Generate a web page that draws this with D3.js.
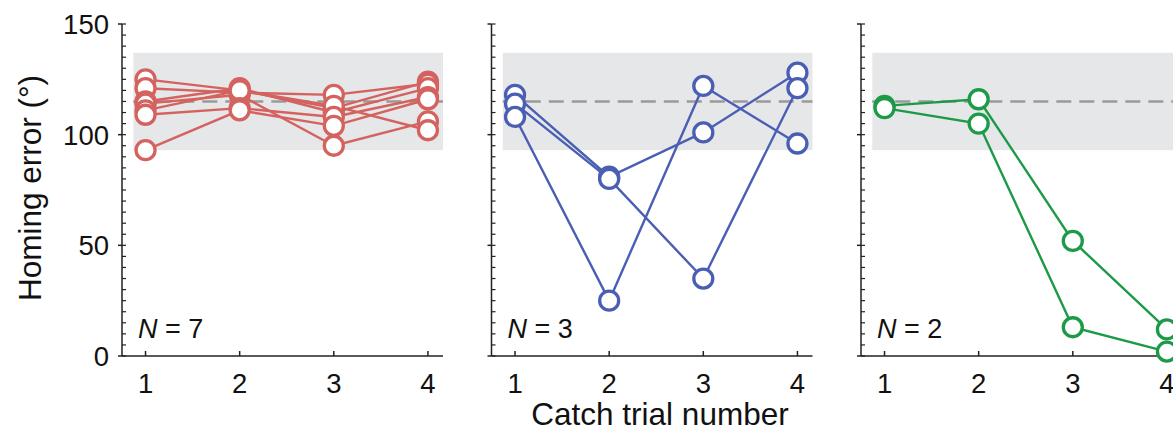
<!DOCTYPE html>
<html>
<head>
<meta charset="utf-8">
<script src="https://cdn.jsdelivr.net/npm/d3@7"></script>
<style>
  html, body { margin: 0; padding: 0; background: #fff; }
  svg { display: block; font-family: "Liberation Sans", Arial, Helvetica, sans-serif; }
</style>
</head>
<body>
<svg id="chart" width="1173" height="443"></svg>
<script>
// Catch trial numbers along the x axis
const trials = [1, 2, 3, 4];
const yTicks = [0, 50, 100, 150];

// Homing error (°) per animal, one row per animal, one value per catch trial
const redSeries = [
  [125, 120, 112, 124],
  [121, 119, 118, 123],
  [115, 121, 110, 121],
  [114, 118, 95, 106],
  [111, 120, 113, 102],
  [109, 112, 108, 117],
  [93, 111, 104, 116]
];
const blueSeries = [
  [118, 81, 101, 128],
  [114, 80, 35, 121],
  [108, 25, 122, 96]
];
const greenSeries = [
  [113, 116, 52, 12],
  [112, 105, 13, 2]
];

// Reference level (dashed) and its spread (shaded band)
const refMean = 115;
const refLow = 93;
const refHigh = 137;

const groups = [
  { series: redSeries, color: "#d4625f", label: "7" },
  { series: blueSeries, color: "#4a5fb3", label: "3" },
  { series: greenSeries, color: "#1c9a48", label: "2" }
];

const svg = d3.select("#chart");

const plotTop = 24, plotBottom = 356;
const panelLeft = 122, panelStep = 369.5, panelWidth = 321;

const y = d3.scaleLinear().domain([0, 150]).range([plotBottom, plotTop]);
const x = d3.scaleLinear().domain([0.75, 4.16]).range([0, panelWidth]);

groups.forEach((grp, i) => {
  const g = svg.append("g").attr("transform", `translate(${panelLeft + i * panelStep},0)`);

  // shaded band and dashed reference line
  g.append("rect")
    .attr("x", x(0.87)).attr("width", x(4.16) - x(0.87))
    .attr("y", y(refHigh)).attr("height", y(refLow) - y(refHigh))
    .attr("fill", "#e6e7e8");
  g.append("line")
    .attr("x1", x(0.87)).attr("x2", x(4.16))
    .attr("y1", y(refMean)).attr("y2", y(refMean))
    .attr("stroke", "#9a9a9a").attr("stroke-width", 2.6)
    .attr("stroke-dasharray", "15,8");

  // y axis: major ticks outward, minor ticks inward
  const yAxis = g.append("g");
  yAxis.append("line")
    .attr("x1", 0).attr("x2", 0).attr("y1", y(150)).attr("y2", y(0))
    .attr("stroke", "#222").attr("stroke-width", 1.5);
  yAxis.selectAll(".minor").data(d3.range(0, 151, 5)).join("line")
    .attr("x1", 0).attr("x2", 4)
    .attr("y1", d => y(d)).attr("y2", d => y(d))
    .attr("stroke", "#222").attr("stroke-width", 1.2);
  yAxis.selectAll(".major").data(yTicks).join("line")
    .attr("x1", -4).attr("x2", 0)
    .attr("y1", d => y(d)).attr("y2", d => y(d))
    .attr("stroke", "#222").attr("stroke-width", 1.5);
  if (i === 0) {
    yAxis.selectAll(".lab").data(yTicks).join("text")
      .attr("x", -13).attr("y", d => y(d))
      .attr("dy", "0.36em").attr("text-anchor", "end")
      .attr("font-size", 27.5).attr("fill", "#111")
      .text(d => d);
  }

  // x axis
  const xAxis = g.append("g").attr("transform", `translate(0,${plotBottom})`);
  xAxis.append("line")
    .attr("x1", 0).attr("x2", panelWidth)
    .attr("stroke", "#222").attr("stroke-width", 1.5);
  xAxis.selectAll(".tk").data(trials).join("line")
    .attr("x1", d => x(d)).attr("x2", d => x(d))
    .attr("y1", 0).attr("y2", -5)
    .attr("stroke", "#222").attr("stroke-width", 1.5);
  xAxis.selectAll(".lab").data(trials).join("text")
    .attr("x", d => x(d)).attr("y", 37)
    .attr("text-anchor", "middle")
    .attr("font-size", 27.5).attr("fill", "#111")
    .text(d => d);

  // individual trajectories
  const line = d3.line().x((d, j) => x(trials[j])).y(d => y(d));
  g.selectAll(".traj").data(grp.series).join("path")
    .attr("d", line)
    .attr("fill", "none").attr("stroke", grp.color).attr("stroke-width", 2.4);
  grp.series.forEach(s => {
    g.selectAll(null).data(s).join("circle")
      .attr("cx", (d, j) => x(trials[j])).attr("cy", d => y(d))
      .attr("r", 9.5)
      .attr("fill", "#fff").attr("stroke", grp.color).attr("stroke-width", 3.3);
  });

  // sample size
  const t = g.append("text")
    .attr("x", 16).attr("y", 338)
    .attr("font-size", 27).attr("fill", "#111");
  t.append("tspan").attr("font-style", "italic").text("N");
  t.append("tspan").text(" = " + grp.label);
});

// axis titles
svg.append("text")
  .attr("transform", "translate(41,188) rotate(-90)")
  .attr("text-anchor", "middle")
  .attr("font-size", 31.5).attr("fill", "#111")
  .text("Homing error (°)");
svg.append("text")
  .attr("x", 660).attr("y", 425)
  .attr("text-anchor", "middle")
  .attr("font-size", 31.5).attr("fill", "#111")
  .text("Catch trial number");
</script>
</body>
</html>
